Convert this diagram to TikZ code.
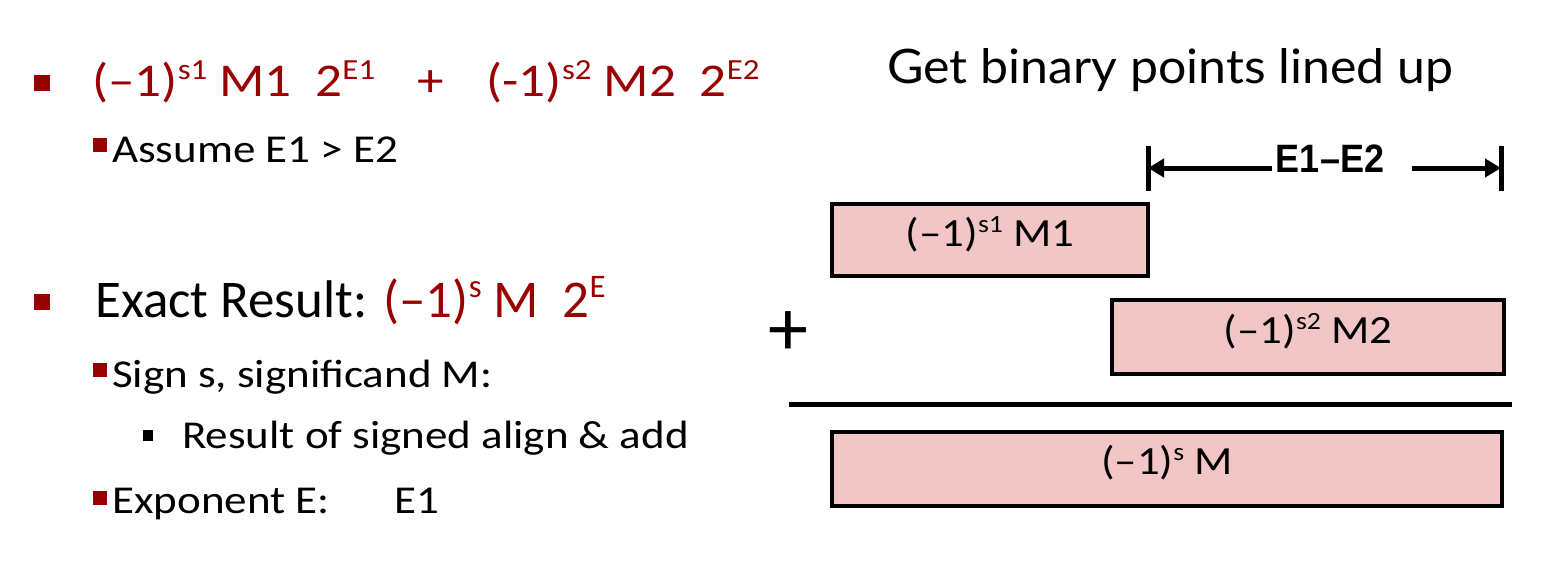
\documentclass[tikz,border=0pt]{standalone}
\usepackage{fontspec}
\setmainfont{Carlito}
\newfontfamily\arialf{Liberation Sans}
\newfontfamily\titlef{Lato}
\usetikzlibrary{arrows.meta}
\definecolor{dred}{RGB}{153,0,0}
\definecolor{boxpink}{RGB}{242,198,198}
\newcommand\spx[1]{\raisebox{0.36em}{\scalebox{0.62}{#1}}}
\newcommand\hs[2]{\scalebox{#1}[1]{#2}}
\begin{document}
\begin{tikzpicture}[x=1pt,y=-1pt,
  bigbul/.style={fill=dred,inner sep=0pt,minimum width=16pt,minimum height=16pt},
  smbul/.style={fill=dred,inner sep=0pt,minimum width=14pt,minimum height=14pt},
  blkbul/.style={fill=black,inner sep=0pt,minimum width=10pt,minimum height=11pt},
  txt/.style={anchor=base west,inner sep=0pt},
  big/.style={font=\fontsize{47}{54}\selectfont},
  huge/.style={font=\fontsize{53}{60}\selectfont},
  mid/.style={font=\fontsize{39.5}{45}\selectfont},
  pbox/.style={draw=black,line width=4pt,fill=boxpink,inner sep=0pt},
  boxtxt/.style={inner sep=0pt,font=\fontsize{40}{46}\selectfont},
  thick5/.style={line width=5pt},
  arr/.style={line width=5pt,-{Triangle[length=16pt,width=18pt]}}
]
\useasboundingbox (0,0) rectangle (1541,574);

% left column
\node[bigbul] (b1) at (42,83) {};
\node[txt,big,text=dred] (l1) at (92,96) {\hs{1.13}{(–1)\spx{s1} M1\hspace{0.45em}2\spx{E1}\hspace{0.8em}+\hspace{0.8em}(-1)\spx{s2} M2\hspace{0.45em}2\spx{E2}}};
\node[smbul] (b2) at (99.5,145) {};
\node[txt,mid] (l2) at (112,162) {\hs{1.14}{Assume E1 > E2}};
\node[bigbul] (b3) at (42,302) {};
\node[txt,huge] (l3) at (95,317) {Exact Result: \textcolor{dred}{(–1)\spx{s} M\hspace{0.45em}2\spx{E}}};
\node[smbul] (b4) at (99.5,369.5) {};
\node[txt,mid] (l4) at (112,387) {\hs{1.14}{Sign s, significand M:}};
\node[blkbul] (b5) at (148,435.5) {};
\node[txt,mid] (l5) at (182,448) {\hs{1.14}{Result of signed align \& add}};
\node[smbul] (b6) at (99.5,497.5) {};
\node[txt,mid] (l6) at (112,513) {\hs{1.14}{Exponent E:}};
\node[txt,mid] (l6b) at (394,513) {\hs{1.14}{E1}};

% right side
\node[txt,font=\titlef\fontsize{46}{52}\selectfont] (title) at (887,83) {\resizebox{566pt}{35pt}{Get binary points lined up}};

\coordinate (lbt) at (1148,146);
\coordinate (lbb) at (1148,191);
\coordinate (rbt) at (1501,146);
\coordinate (rbb) at (1501,191);
\draw[thick5] (lbt) -- (lbb);
\draw[thick5] (rbt) -- (rbb);
\node[inner sep=0pt,font=\arialf\bfseries\fontsize{36}{40}\selectfont] (de) at (1330,159) {\scalebox{1}[1.1]{E1–E2}};
\coordinate (la) at (1272,168);
\coordinate (ra) at (1412,168);
\draw[arr] (la) -- (lbt |- la);
\draw[arr] (ra) -- (rbt |- ra);

\node[pbox,minimum width=316pt,minimum height=72pt] (m1) at (990,240) {};
\node[boxtxt] (m1t) at ([yshift=6pt]m1.center) {\hs{1.12}{(–1)\spx{s1} M1}};
\node[pbox,minimum width=392pt,minimum height=74pt] (m2) at (1308,337) {};
\node[boxtxt] (m2t) at ([yshift=6pt]m2.center) {\hs{1.12}{(–1)\spx{s2} M2}};
\node[pbox,minimum width=670pt,minimum height=74pt] (m3) at (1167,469) {};
\node[boxtxt] (m3t) at ([yshift=6pt]m3.center) {\hs{1.12}{(–1)\spx{s} M}};

\node[inner sep=0pt,font=\fontsize{80}{86}\selectfont] (plus) at (788,333) {+};
\coordinate (rl) at (789,404);
\coordinate (rr) at (1512,404);
\draw[thick5] (rl) -- (rr);
\end{tikzpicture}
\end{document}
